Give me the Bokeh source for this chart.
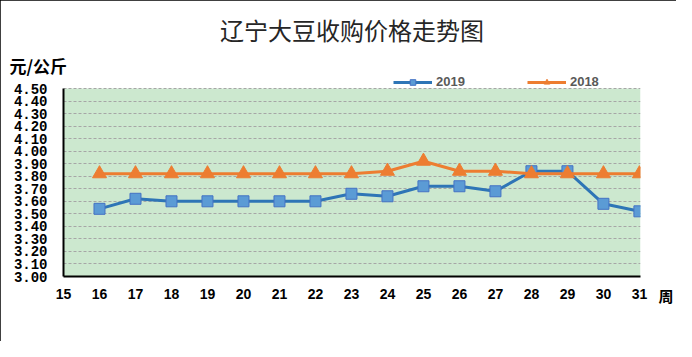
from bokeh.plotting import figure
from bokeh.models import (Range1d, FixedTicker, NumeralTickFormatter, Legend, LegendItem,
                          Title, ColumnDataSource, BoxAnnotation, LinearAxis)
from bokeh.embed import file_html
from bokeh.resources import INLINE

weeks = [16, 17, 18, 19, 20, 21, 22, 23, 24, 25, 26, 27, 28, 29, 30, 31]
price_2019 = [3.54, 3.62, 3.60, 3.60, 3.60, 3.60, 3.60, 3.66, 3.64, 3.72, 3.72, 3.68, 3.84, 3.84, 3.58, 3.52]
price_2018 = [3.82, 3.82, 3.82, 3.82, 3.82, 3.82, 3.82, 3.82, 3.84, 3.92, 3.84, 3.84, 3.82, 3.82, 3.82, 3.82]
x_ticks = list(range(15, 32))
y_ticks = [3.0, 3.1, 3.2, 3.3, 3.4, 3.5, 3.6, 3.7, 3.8, 3.9, 4.0, 4.1, 4.2, 4.3, 4.4, 4.5]
y_min, y_max = 3.0, 4.5
x_min, x_max = 15, 31.03
title_text = "辽宁大豆收购价格走势图"
unit_text = "元/公斤"
x_unit_text = "周"

W, H = 676, 341
FRAME_TOP, FRAME_BOTTOM, PLOT_TOP = 73, 276, 88
# y range extended above 4.50 so the legend row sits inside the frame
y_end = y_min + (y_max - y_min) * (FRAME_BOTTOM - FRAME_TOP) / (FRAME_BOTTOM - PLOT_TOP)

p = figure(width=W, height=H, output_backend="svg", toolbar_location=None,
           x_range=Range1d(x_min, x_max), y_range=Range1d(y_min, y_end),
           min_border_left=63, min_border_right=28, min_border_top=FRAME_TOP,
           min_border_bottom=H - FRAME_BOTTOM)
p.title.text = ""
p.title.visible = False
p.background_fill_color = "white"
p.border_fill_color = "white"
p.outline_line_color = None
p.styles = {"outline": "1px solid black", "outline-offset": "-1px"}

# green plot area (3.00 - 4.50)
p.add_layout(BoxAnnotation(left=x_min, right=x_max, bottom=y_min, top=y_max,
                           fill_color="#CCE8CF", fill_alpha=1, line_color=None, level="image"))

src = ColumnDataSource(dict(w=weeks, a=price_2019, b=price_2018))

l19 = p.line("w", "a", source=src, line_color="#2E75B6", line_width=3)
m19 = p.scatter("w", "a", source=src, marker="square", size=11,
                fill_color="#5B9BD5", line_color="#4472C4", line_width=1)
l18 = p.line("w", "b", source=src, line_color="#ED7D31", line_width=3)
m18 = p.scatter("w", "b", source=src, marker="triangle", size=14,
                fill_color="#ED7D31", line_color="#ED7D31", line_width=1)

# axes
for ax in (p.xaxis[0], p.yaxis[0]):
    ax.axis_line_color = "black"
    ax.axis_line_width = 2
    ax.major_tick_line_color = None
    ax.minor_tick_line_color = None
    ax.major_label_text_font_style = "bold"
    ax.major_label_text_color = "black"

p.yaxis[0].ticker = FixedTicker(ticks=y_ticks)
p.yaxis[0].bounds = (y_min, y_max)
p.yaxis[0].formatter = NumeralTickFormatter(format="0.00")
p.yaxis[0].major_label_text_font = "Liberation Mono"
p.yaxis[0].major_label_text_font_size = "14px"
p.yaxis[0].major_label_standoff = 10

p.xaxis[0].ticker = FixedTicker(ticks=x_ticks)
p.xaxis[0].major_label_text_font = "Liberation Sans"
p.xaxis[0].major_label_text_font_size = "14px"
p.xaxis[0].major_label_standoff = 6

p.xgrid.grid_line_color = None
p.ygrid.ticker = FixedTicker(ticks=y_ticks)
p.ygrid.grid_line_color = "#A6A6A6"
p.ygrid.grid_line_dash = "3 2"
p.ygrid.grid_line_width = 1

# right axis used only to carry the "周" unit next to the last x label
ra = LinearAxis(ticker=FixedTicker(ticks=[y_min]), major_label_overrides={y_min: "\n\n" + x_unit_text},
                axis_line_color=None, major_tick_line_color=None, minor_tick_line_color=None,
                major_label_standoff=12, major_label_text_font="Noto Sans CJK SC",
                major_label_text_font_size="15px", major_label_text_font_style="bold",
                major_label_text_line_height=0.92, major_label_text_color="black")
p.add_layout(ra, "right")

# legend row above the plot area
legend = Legend(items=[LegendItem(label="2019", renderers=[l19, m19]),
                       LegendItem(label="2018", renderers=[l18, m18])],
                orientation="horizontal", location=(330, FRAME_BOTTOM - PLOT_TOP - 1),
                padding=0, margin=0, spacing=62, glyph_width=39, glyph_height=14,
                label_height=14, label_standoff=4,
                label_text_font="Liberation Sans", label_text_font_size="13px",
                label_text_font_style="bold", label_text_color="#595959",
                border_line_color=None, background_fill_alpha=0)
p.add_layout(legend, "center")

# unit label (y axis)
p.add_layout(Title(text=unit_text, align="left", offset=-54, standoff=-9,
                   text_font="Noto Sans CJK SC", text_font_size="17px",
                   text_font_style="bold", text_color="black"), "above")
# main title
p.add_layout(Title(text=title_text, align="center", offset=-10, standoff=18,
                   text_font="Noto Sans CJK SC", text_font_size="24px",
                   text_font_style="normal", text_color="#262626"), "above")

open("out.html", "w").write(file_html(p, INLINE))
